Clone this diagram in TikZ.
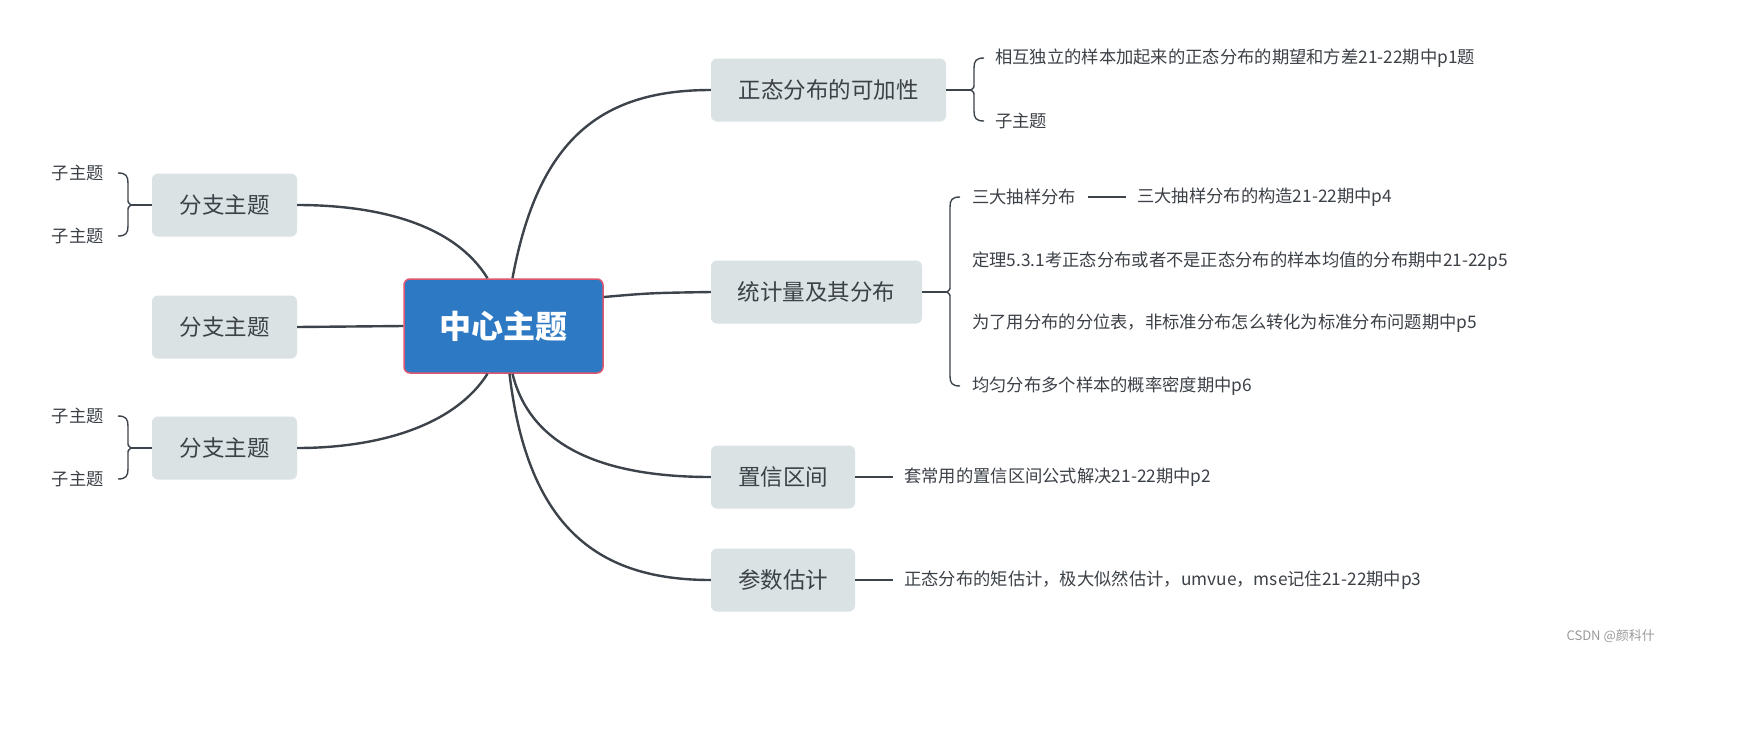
\documentclass[tikz,border=0pt]{standalone}
\usepackage{fontspec}
\setmainfont{Noto Sans CJK SC}
\definecolor{cfill}{HTML}{2E79C3}
\definecolor{cborder}{HTML}{E0566E}
\definecolor{bfill}{HTML}{DAE2E4}
\definecolor{lcol}{HTML}{3D434B}
\definecolor{tcol}{HTML}{3C4147}
\definecolor{wcol}{HTML}{9A9A9A}
\newcommand\mybraceR[4]{% tip x, top y, bottom y, mid y  (opening right)
  \draw[subline] ({#1+13},#2) .. controls ({#1+5},#2) and ({#1+3},{#2+3}) .. ({#1+3},{#2+10})
    -- ({#1+3},{#4-7}) .. controls ({#1+3},{#4-2}) .. (#1,#4)
    .. controls ({#1+3},{#4+2}) .. ({#1+3},{#4+7})
    -- ({#1+3},{#3-10}) .. controls ({#1+3},{#3-3}) and ({#1+5},#3) .. ({#1+13},#3);}
\newcommand\mybraceL[4]{% tip x, top y, bottom y, mid y  (opening left)
  \draw[subline] ({#1-13},#2) .. controls ({#1-5},#2) and ({#1-3},{#2+3}) .. ({#1-3},{#2+10})
    -- ({#1-3},{#4-7}) .. controls ({#1-3},{#4-2}) .. (#1,#4)
    .. controls ({#1-3},{#4+2}) .. ({#1-3},{#4+7})
    -- ({#1-3},{#3-10}) .. controls ({#1-3},{#3-3}) and ({#1-5},#3) .. ({#1-13},#3);}
\begin{document}
\begin{tikzpicture}[x=1pt,y=-1pt,
  centerbox/.style={rectangle, fill=cfill, draw=cborder, line width=1.5pt, rounded corners=6pt,
    minimum width=199pt, minimum height=94pt, inner sep=0pt, text=white,
    font=\fontsize{32}{38}\selectfont\bfseries},
  branch/.style={rectangle, fill=bfill, rounded corners=6pt, minimum height=63pt, inner sep=0pt,
    text=tcol, font=\fontsize{22.5}{27}\selectfont},
  subtext/.style={inner sep=0pt, text=tcol, font=\fontsize{17.3}{21}\selectfont},
  mainline/.style={draw=lcol, line width=2.4pt},
  subline/.style={draw=lcol, line width=1.4pt}]
\useasboundingbox (0,0) rectangle (1752,729);
\fill[white] (0,0) rectangle (1752,729);

% center
\node[centerbox] (c) at (503.5,326) {中心主题};

% right branches
\node[branch, minimum width=235pt] (a1) at (828.5,90) {正态分布的可加性};
\node[branch, minimum width=211pt] (a2) at (816.5,292) {统计量及其分布};
\node[branch, minimum width=144pt] (a3) at (783,477) {置信区间};
\node[branch, minimum width=144pt] (a4) at (783,580) {参数估计};

% left branches
\node[branch, minimum width=145pt] (b1) at (224.5,205) {分支主题};
\node[branch, minimum width=145pt] (b2) at (224.5,327) {分支主题};
\node[branch, minimum width=145pt] (b3) at (224.5,448) {分支主题};

% main connectors
\draw[mainline] ([xshift=9pt]c.north) .. controls (538,140) and (600,90) .. (a1.west);
\draw[mainline] ([yshift=29pt]c.east) .. controls (650,293) .. (a2.west);
\draw[mainline] ([xshift=9pt]c.south) .. controls (530,445) and (600,477) .. (a3.west);
\draw[mainline] ([xshift=6pt]c.south) .. controls (528,530) and (600,580) .. (a4.west);
\draw[mainline] ([xshift=-16pt]c.north) .. controls (455,225) and (380,205) .. (b1.east);
\draw[mainline] (c.west) -- (b2.east);
\draw[mainline] ([xshift=-16pt]c.south) .. controls (455,425) and (380,448) .. (b3.east);

% sub texts right
\node[subtext, anchor=west] (a1s1) at (995,58) {相互独立的样本加起来的正态分布的期望和方差21-22期中p1题};
\node[subtext, anchor=west] (a1s2) at (995,121) {子主题};
\node[subtext, anchor=west] (a2s1) at (972,197) {三大抽样分布};
\node[subtext, anchor=west] (a2s1a) at (1137,197) {三大抽样分布的构造21-22期中p4};
\node[subtext, anchor=west] (a2s2) at (972,261) {定理5.3.1考正态分布或者不是正态分布的样本均值的分布期中21-22p5};
\node[subtext, anchor=west] (a2s3) at (972,323) {为了用分布的分位表，非标准分布怎么转化为标准分布问题期中p5};
\node[subtext, anchor=west] (a2s4) at (972,386) {均匀分布多个样本的概率密度期中p6};
\node[subtext, anchor=west] (a3s1) at (904,477) {套常用的置信区间公式解决21-22期中p2};
\node[subtext, anchor=west] (a4s1) at (904,580) {正态分布的矩估计，极大似然估计，umvue，mse记住21-22期中p3};

% sub texts left
\node[subtext, anchor=east] (b1s1) at (104,173) {子主题};
\node[subtext, anchor=east] (b1s2) at (104,236) {子主题};
\node[subtext, anchor=east] (b3s1) at (104,416) {子主题};
\node[subtext, anchor=east] (b3s2) at (104,479) {子主题};

% brace tips
\coordinate (t1) at (971,90);
\coordinate (t2) at (947,292);
\coordinate (t3) at (131,205);
\coordinate (t4) at (131,448);

\draw[subline] (a1.east) -- (t1);
\draw[subline] (a2.east) -- (t2);
\draw[subline] (b1.west) -- (t3);
\draw[subline] (b3.west) -- (t4);
\mybraceR{971}{58}{121}{90}
\mybraceR{947}{197}{386}{292}
\mybraceL{131}{173}{236}{205}
\mybraceL{131}{416}{479}{448}

\draw[subline] (a2s1.east) ++(12,0) -- ([xshift=-11pt]a2s1a.west);
\draw[subline] (a3.east) -- ([xshift=-11pt]a3s1.west);
\draw[subline] (a4.east) -- ([xshift=-11pt]a4s1.west);

% watermark
\node[inner sep=0pt, anchor=east, text=wcol, font=\fontsize{13}{15}\selectfont] (wm) at (1655,636) {CSDN @颜科什};
\end{tikzpicture}
\end{document}
